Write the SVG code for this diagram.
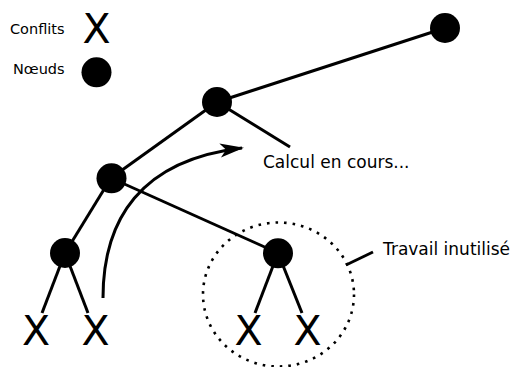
<svg xmlns="http://www.w3.org/2000/svg" width="510" height="367" viewBox="0 0 510 367">
<style>
.edge{stroke:#000;stroke-width:3;fill:none;stroke-linecap:butt}
.node{fill:#000}
.lbl{font-family:"DejaVu Sans",sans-serif;fill:#000}
.x{font-family:"DejaVu Sans",sans-serif;font-size:41px;fill:#000;text-anchor:middle}
</style>
<defs>
<marker id="arr" markerUnits="userSpaceOnUse" markerWidth="30" markerHeight="20" viewBox="-24 -10 30 20" refX="0" refY="0" orient="auto" overflow="visible">
<path d="M2,0 L-22,-7 L-16,0 L-22,7 Z" fill="#000"/>
</marker>
</defs>
<g id="connectors">
<line class="edge" x1="217" y1="102" x2="445" y2="28"/>
<line class="edge" x1="217" y1="102" x2="111" y2="178"/>
<line class="edge" x1="217" y1="102" x2="290" y2="147"/>
<line class="edge" x1="111" y1="178" x2="65" y2="253"/>
<line class="edge" x1="111" y1="178" x2="278" y2="253"/>
<line class="edge" x1="65" y1="253" x2="42" y2="313"/>
<line class="edge" x1="65" y1="253" x2="88" y2="313"/>
<line class="edge" x1="278" y1="253" x2="255" y2="313"/>
<line class="edge" x1="278" y1="253" x2="302" y2="313"/>
<line class="edge" x1="346" y1="265" x2="373" y2="252"/>
<path class="edge" d="M103,298 C103,220 140,160 242,148" marker-end="url(#arr)"/>
</g>
<g id="circle-unused">
<ellipse cx="278.5" cy="294.5" rx="75.5" ry="72" fill="none" stroke="#000" stroke-width="2.6" stroke-dasharray="2.6 6"/>
</g>
<g id="legend">
<text class="lbl" x="10" y="33.5" font-size="14.5">Conflits</text>
<text class="x" x="96.5" y="42.5">X</text>
<text class="lbl" x="13" y="73.5" font-size="14.5">Nœuds</text>
<circle class="node" cx="96.5" cy="72.3" r="15"/>
</g>
<g id="n-top"><circle class="node" cx="445" cy="28" r="15"/></g>
<g id="n-a"><circle class="node" cx="217" cy="102" r="15"/></g>
<g id="n-b"><circle class="node" cx="111.5" cy="178.3" r="15"/></g>
<g id="n-c"><circle class="node" cx="65" cy="253" r="15"/></g>
<g id="n-d"><circle class="node" cx="278" cy="253.3" r="15"/></g>
<g id="x1"><text class="x" x="36" y="345">X</text></g>
<g id="x2"><text class="x" x="95.5" y="345">X</text></g>
<g id="x3"><text class="x" x="248.5" y="345">X</text></g>
<g id="x4"><text class="x" x="307.5" y="345">X</text></g>
<g id="label-calc"><text class="lbl" x="263" y="168" font-size="17">Calcul en cours...</text></g>
<g id="label-travail"><text class="lbl" x="383" y="254.5" font-size="17">Travail inutilisé</text></g>
</svg>
